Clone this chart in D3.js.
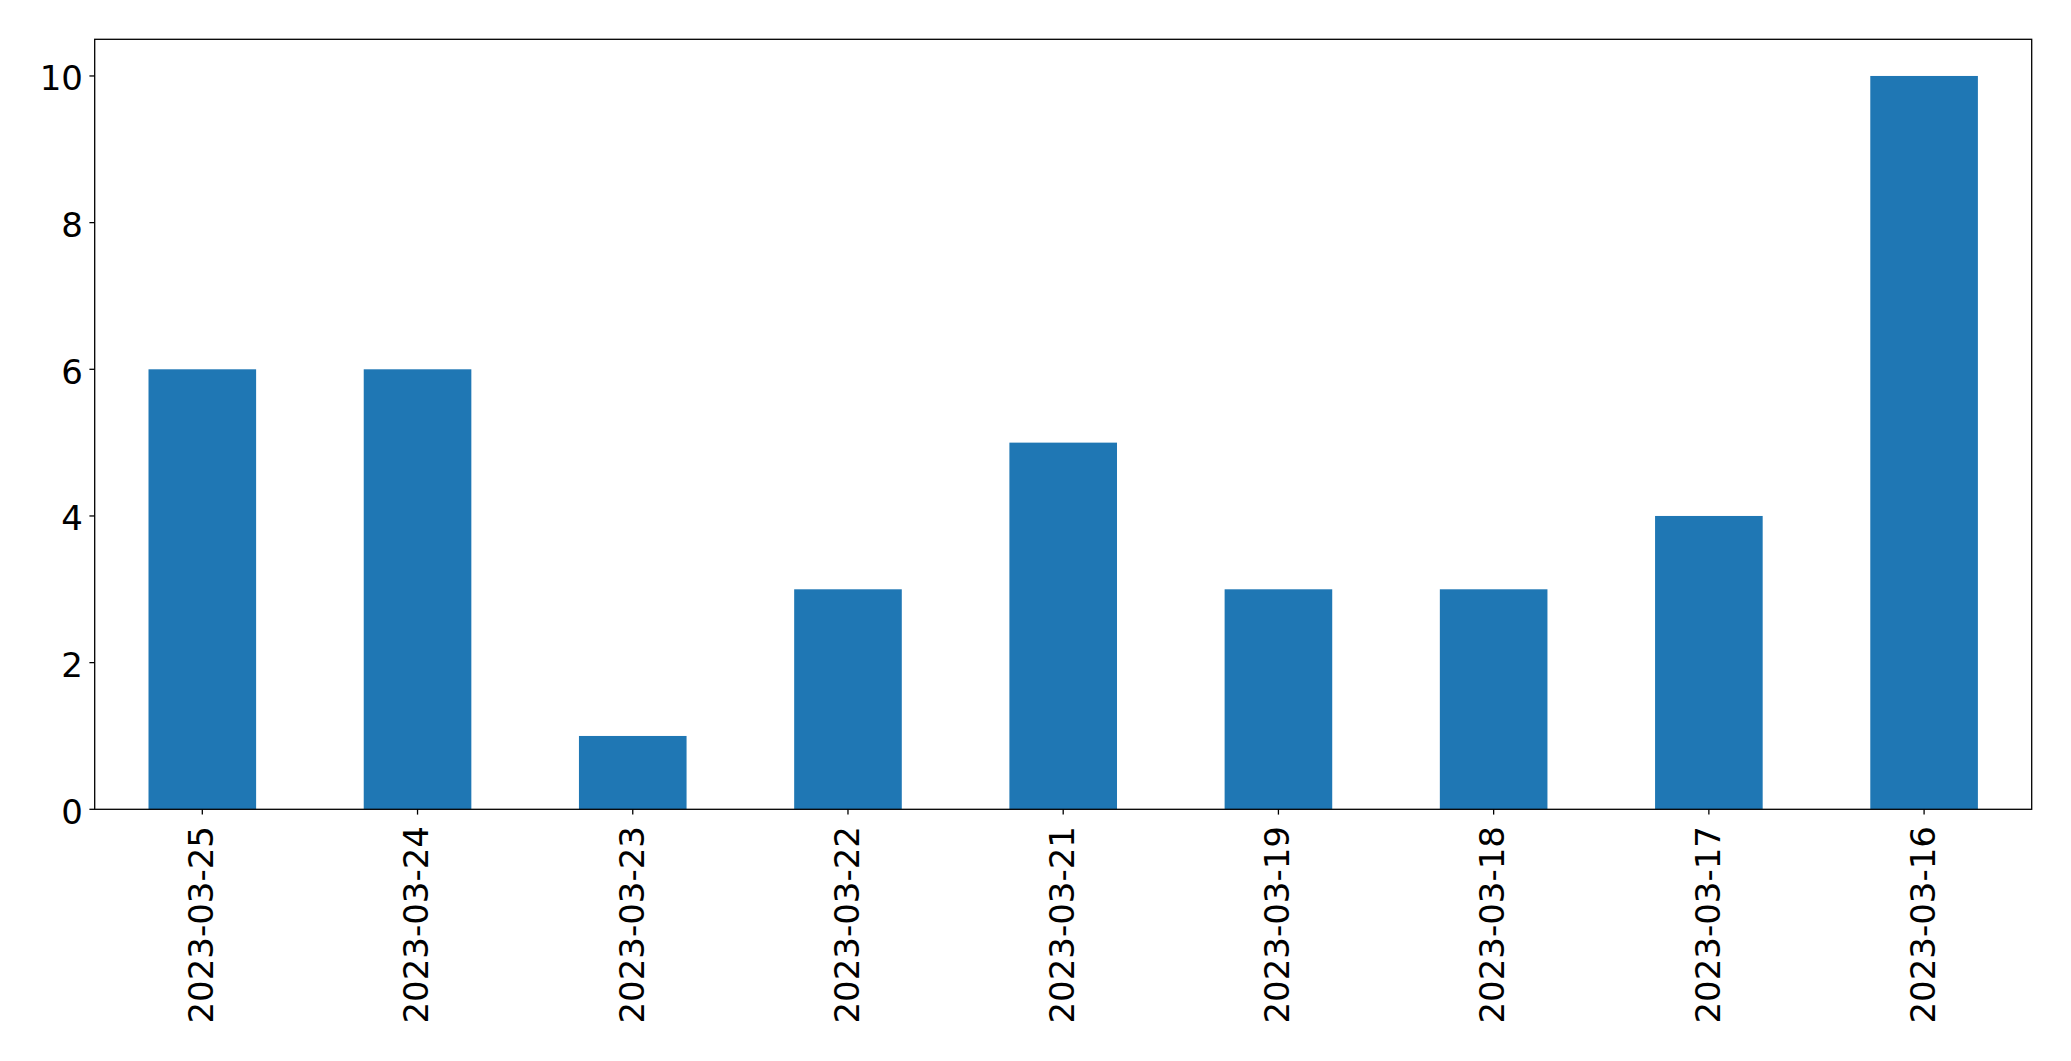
<!DOCTYPE html>
<html><head><meta charset="utf-8">
<script src="https://cdn.jsdelivr.net/npm/d3@7"></script>
<style>body{margin:0;background:#fff}svg{display:block}text{font-family:"DejaVu Sans";fill:#000}</style>
</head><body>
<svg id="c" width="2071" height="1061"></svg>
<script>
const categories = ["2023-03-25","2023-03-24","2023-03-23","2023-03-22","2023-03-21","2023-03-19","2023-03-18","2023-03-17","2023-03-16"];
const values = [6,6,1,3,5,3,3,4,10];
const yTicks = [0,2,4,6,8,10];

const L=94.7, R=2031.7, T=39.3, B=809.3;
const svg=d3.select("#c");
const n=categories.length;
const x=d3.scaleLinear().domain([-0.5,n-0.5]).range([L,R]);
const y=d3.scaleLinear().domain([0,10.5]).range([B,T]);
const bw=0.5;

svg.append("g").selectAll("rect").data(values).join("rect")
  .attr("x",(d,i)=>x(i-bw/2)).attr("width",(d,i)=>x(i+bw/2)-x(i-bw/2))
  .attr("y",d=>y(d)).attr("height",d=>y(0)-y(d)).attr("fill","#1f77b4");

// y ticks
const gy=svg.append("g");
yTicks.forEach(t=>{
  gy.append("line").attr("x1",L-5.3).attr("x2",L).attr("y1",y(t)).attr("y2",y(t)).attr("stroke","#000").attr("stroke-width",1.3);
  gy.append("text").attr("x",83).attr("y",y(t)).attr("dy",14.3).attr("text-anchor","end").attr("font-size",34).text(t);
});
// x ticks
const gx=svg.append("g");
categories.forEach((c,i)=>{
  gx.append("line").attr("x1",x(i)).attr("x2",x(i)).attr("y1",B).attr("y2",B+5.3).attr("stroke","#000").attr("stroke-width",1.3);
  gx.append("text").attr("transform",`translate(${x(i)},826) rotate(-90)`).attr("dy",10.75)
    .attr("text-anchor","end").attr("font-size",34).text(c);
});
svg.append("rect").attr("x",L).attr("y",T).attr("width",R-L).attr("height",B-T)
  .attr("fill","none").attr("stroke","#000").attr("stroke-width",1.3);
</script>
</body></html>
